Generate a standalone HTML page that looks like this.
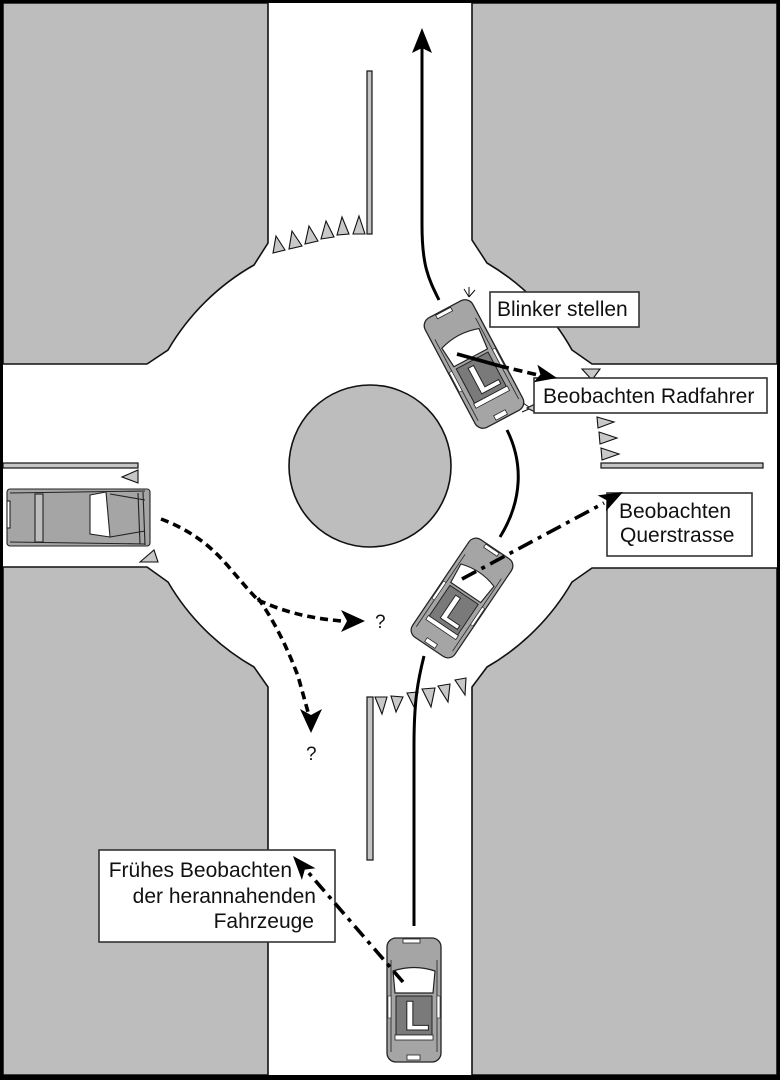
<!DOCTYPE html>
<html><head><meta charset="utf-8"><style>
html,body{margin:0;padding:0;background:#fff;}
svg{display:block;}
text{font-family:"Liberation Sans",Arial,sans-serif;}
</style></head><body>
<svg width="780" height="1080" viewBox="0 0 780 1080" xmlns="http://www.w3.org/2000/svg">
<rect x="0" y="0" width="780" height="1080" fill="#fff"/>
<!-- blocks -->
<g fill="#bdbdbd" stroke="#111" stroke-width="1.6">
<path d="M3,3 H268 V243 L254,265 A232,232 0 0 0 168,350 L147,364 H3 Z"/>
<path d="M472,3 H777 V364 H592 L572,350 A232,232 0 0 0 487,263 L472,240 Z"/>
<path d="M3,567 H147 L168,582 A232,232 0 0 0 254,667 L268,687 V1075 H3 Z"/>
<path d="M777,568 H592 L572,582 A232,232 0 0 1 487,667 L472,687 V1075 H777 Z"/>
<circle cx="370" cy="466" r="81"/>
</g>
<!-- curb strips -->
<g fill="#c4c4c4" stroke="#111" stroke-width="1.2">
<rect x="367" y="71" width="5" height="163"/>
<rect x="3" y="463" width="135" height="5"/>
<rect x="601" y="463" width="162" height="5"/>
<rect x="367" y="697" width="6" height="163"/>
</g>
<!-- triangles -->
<g fill="#c8c8c8" stroke="#111" stroke-width="1.1">
<polygon points="276,236 285,250 273,253"/>
<polygon points="292,231 302,246 289,249"/>
<polygon points="309,226 318,241 305,244"/>
<polygon points="326,221 334,237 321,239"/>
<polygon points="342,217 349,234 337,235"/>
<polygon points="359,216 365,234 353,234"/>
<polygon points="122,477 138,470 138,483"/>
<polygon points="140,562 154,550 158,562"/>
<polygon points="597,417 614,422 598,428"/>
<polygon points="599,432 617,438 600,444"/>
<polygon points="601,448 619,454 602,460"/>
<polygon points="582,369 600,369 592,380"/>
<polygon points="535,404 527,408 535,412"/>
<polygon points="375,697 387,697 382,714"/>
<polygon points="391,696 403,697 396,712"/>
<polygon points="407,693 418,692 414,707"/>
<polygon points="422,689 435,688 431,707"/>
<polygon points="438,686 450,684 448,702"/>
<polygon points="455,680 466,678 465,695"/>
</g>

<!-- solid paths -->
<g fill="none" stroke="#000" stroke-width="3">
<path d="M439,300 C428,278 422,265 422,225 V48"/>
<path d="M507,430 C523,462 523,500 500,537"/>
<path d="M414,926 V745 C414,700 418,680 424,656"/>
</g>
<polygon points="422,28 412,53 422,48 432,53" fill="#000"/>

<!-- left car (side, pointing right) -->
<g stroke="#222" stroke-width="1.1">
<rect x="7" y="489" width="143" height="57" rx="3" fill="#a5a5a5"/>
<rect x="7" y="501" width="3" height="27" fill="#fff"/>
<line x1="10" y1="493" x2="145" y2="491" fill="none"/>
<line x1="10" y1="542" x2="145" y2="544" fill="none"/>
<rect x="35" y="494" width="8" height="48" fill="#bdbdbd"/>
<polygon points="90,495 106,492 110,537 90,534" fill="#fff"/>
<line x1="110" y1="494" x2="145" y2="500" fill="none"/>
<line x1="110" y1="537" x2="145" y2="531" fill="none"/>
<line x1="143" y1="492" x2="145" y2="545" fill="none"/>
<line x1="138" y1="493" x2="140" y2="544" fill="none"/>
</g>

<!-- cars -->
<g transform="translate(414,1000)" stroke="#222">
 <rect x="-27" y="-62" width="54" height="124" rx="9" fill="#a5a5a5" stroke-width="1.3"/>
 <path d="M-23,-40 L-23,52 M23,-40 L23,52" stroke-width="0.8" fill="none"/>
 <rect x="-11" y="-61" width="17" height="4" fill="#fff" stroke-width="0.8"/>
 <path d="M-21,-29 Q0,-36 21,-29 L19,-7 L-19,-7 Z" fill="#fff" stroke-width="1.2"/>
 <rect x="-26" y="-4" width="3" height="22" fill="#fff" stroke-width="0.6"/>
 <rect x="23" y="-4" width="3" height="22" fill="#fff" stroke-width="0.6"/>
 <rect x="-18" y="-4" width="36" height="39" fill="#7a7a7a" stroke-width="1"/>
 <text x="-10" y="30" font-weight="bold" font-size="42" fill="#fff" stroke="#222" stroke-width="1">L</text>
 <rect x="-19" y="35" width="38" height="5" fill="#fff" stroke-width="0.8"/>
 <rect x="-7" y="55" width="13" height="5" fill="#fff" stroke-width="0.8"/>
</g>
<g transform="translate(474,364) rotate(-28)" stroke="#222">
 <rect x="-27" y="-62" width="54" height="124" rx="9" fill="#a5a5a5" stroke-width="1.3"/>
 <path d="M-23,-40 L-23,52 M23,-40 L23,52" stroke-width="0.8" fill="none"/>
 <rect x="-11" y="-61" width="17" height="4" fill="#fff" stroke-width="0.8"/>
 <path d="M-21,-29 Q0,-36 21,-29 L19,-7 L-19,-7 Z" fill="#fff" stroke-width="1.2"/>
 <rect x="-26" y="-4" width="3" height="22" fill="#fff" stroke-width="0.6"/>
 <rect x="23" y="-4" width="3" height="22" fill="#fff" stroke-width="0.6"/>
 <rect x="-18" y="-4" width="36" height="39" fill="#7a7a7a" stroke-width="1"/>
 <text x="-10" y="30" font-weight="bold" font-size="42" fill="#fff" stroke="#222" stroke-width="1">L</text>
 <rect x="-19" y="35" width="38" height="5" fill="#fff" stroke-width="0.8"/>
 <rect x="-7" y="55" width="13" height="5" fill="#fff" stroke-width="0.8"/>
</g>
<g transform="translate(462,598) rotate(34) scale(0.95)" stroke="#222">
 <rect x="-27" y="-62" width="54" height="124" rx="9" fill="#a5a5a5" stroke-width="1.3"/>
 <path d="M-23,-40 L-23,52 M23,-40 L23,52" stroke-width="0.8" fill="none"/>
 <rect x="-11" y="-61" width="17" height="4" fill="#fff" stroke-width="0.8"/>
 <path d="M-21,-29 Q0,-36 21,-29 L19,-7 L-19,-7 Z" fill="#fff" stroke-width="1.2"/>
 <rect x="-26" y="-4" width="3" height="22" fill="#fff" stroke-width="0.6"/>
 <rect x="23" y="-4" width="3" height="22" fill="#fff" stroke-width="0.6"/>
 <rect x="-18" y="-4" width="36" height="39" fill="#7a7a7a" stroke-width="1"/>
 <text x="-10" y="30" font-weight="bold" font-size="42" fill="#fff" stroke="#222" stroke-width="1">L</text>
 <rect x="-19" y="35" width="38" height="5" fill="#fff" stroke-width="0.8"/>
 <rect x="-7" y="55" width="13" height="5" fill="#fff" stroke-width="0.8"/>
</g>
<!-- blinker marks -->
<g stroke="#111" stroke-width="1" fill="none">
<path d="M469,297 L464,289 M469,297 L469,287 M469,297 L475,290"/>
<path d="M529,407 L523,403 M529,409 L522,412"/>
</g>

<!-- boxes -->
<g fill="#fff" stroke="#333" stroke-width="1.6">
<rect x="490" y="292" width="149" height="35"/>
<rect x="534" y="378" width="233" height="35"/>
<rect x="607" y="493" width="145" height="63"/>
<rect x="99" y="850" width="236" height="92"/>
</g>
<g font-size="21" fill="#111">
<text x="497" y="316">Blinker stellen</text>
<text x="543" y="403">Beobachten Radfahrer</text>
<text x="619" y="518">Beobachten</text>
<text x="620" y="542">Querstrasse</text>
<text x="292" y="877" text-anchor="end">Frühes Beobachten</text>
<text x="316" y="903" text-anchor="end">der herannahenden</text>
<text x="314" y="928" text-anchor="end">Fahrzeuge</text>
</g>
<g font-size="19" fill="#111">
<text x="375" y="628">?</text>
<text x="306" y="760">?</text>
</g>

<!-- vision arrows -->
<g fill="none" stroke="#000" stroke-width="3.6">
<path d="M457,354 L500,366"/>
<path d="M500,366 L538,375" stroke-dasharray="9 5"/>
<path d="M462,579 L604,503" stroke-dasharray="16 6 4 6"/>
<path d="M403,982 L307,871" stroke-dasharray="14 6 4 6"/>
<path d="M161,519 C190,530 210,545 228,566 C240,580 250,592 258,600" stroke-dasharray="8 5"/>
<path d="M258,600 C280,610 305,618 342,621" stroke-dasharray="8 5"/>
<path d="M258,598 C272,618 285,642 298,676 L308,712" stroke-dasharray="8 5"/>
</g>
<g fill="#000">
<polygon points="557,378 533.6,382.3 540.4,374.5 537.4,364.7"/>
<polygon points="623,492 606,511.2 607.1,500.5 597.6,495.4"/>
<polygon points="293,856 315.5,868.2 304.8,869.6 301.9,880"/>
<polygon points="365,621 341,610 347,621 341,632"/>
<polygon points="311,733 300,709 311,715 322,709"/>
</g>

<!-- frame -->
<rect x="0" y="0" width="780" height="3" fill="#000"/>
<rect x="0" y="0" width="3" height="1080" fill="#000"/>
<rect x="777" y="0" width="3" height="1080" fill="#000"/>
<rect x="0" y="1075" width="780" height="5" fill="#000"/>
</svg>
</body></html>
